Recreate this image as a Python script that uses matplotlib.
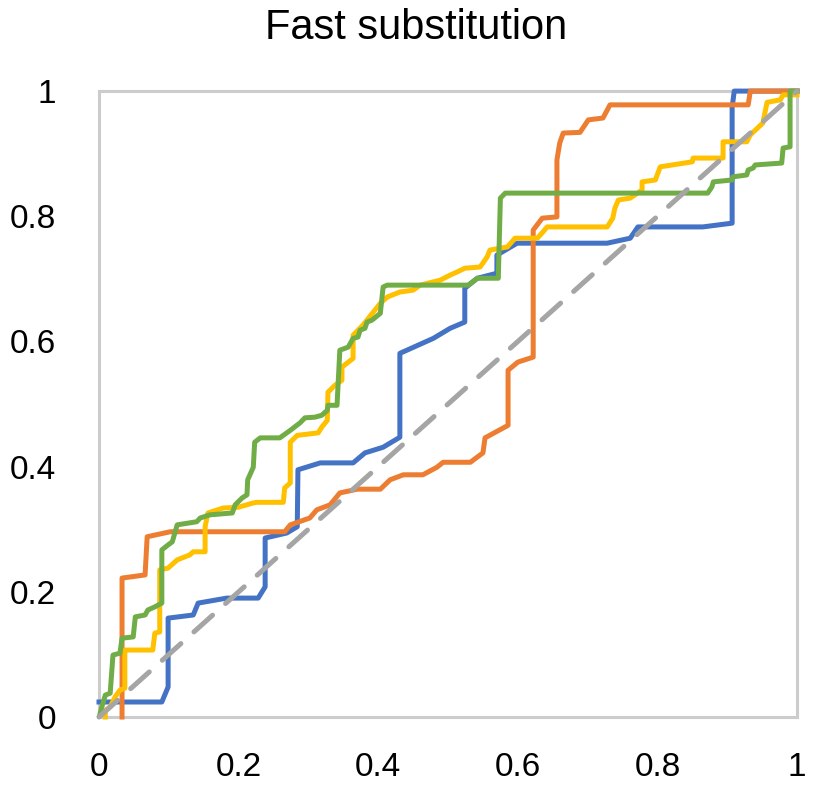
import matplotlib
matplotlib.use('Agg')
import matplotlib.pyplot as plt

plt.rcParams['font.family'] = ['Liberation Sans', 'DejaVu Sans']

title = 'Fast substitution'
ticks = [0, 0.2, 0.4, 0.6, 0.8, 1]
tick_labels = ['0', '0.2', '0.4', '0.6', '0.8', '1']

blue_x = [0, 0.090, 0.099, 0.099, 0.135, 0.142, 0.183, 0.228, 0.238, 0.238, 0.269, 0.284,
          0.285, 0.317, 0.364, 0.381, 0.407, 0.431, 0.431, 0.479, 0.503, 0.524, 0.524, 0.542,
          0.570, 0.570, 0.599, 0.728, 0.761, 0.772, 0.865, 0.907, 0.907, 0.910, 1.0]
blue_y = [0.024, 0.024, 0.048, 0.158, 0.163, 0.182, 0.190, 0.190, 0.208, 0.286, 0.294, 0.304,
          0.395, 0.406, 0.406, 0.422, 0.431, 0.447, 0.581, 0.605, 0.621, 0.631, 0.685, 0.701,
          0.709, 0.738, 0.757, 0.757, 0.765, 0.783, 0.783, 0.789, 0.974, 1.0, 1.0]

orange_x = [0.033, 0.033, 0.066, 0.069, 0.102, 0.266, 0.274, 0.302, 0.312, 0.331, 0.345, 0.370,
            0.403, 0.417, 0.436, 0.464, 0.484, 0.493, 0.532, 0.550, 0.553, 0.586, 0.586, 0.600,
            0.622, 0.622, 0.635, 0.656, 0.656, 0.660, 0.665, 0.689, 0.701, 0.722, 0.732, 0.930,
            0.933, 1.0]
orange_y = [0, 0.222, 0.227, 0.288, 0.296, 0.296, 0.307, 0.318, 0.331, 0.339, 0.358, 0.364,
            0.364, 0.379, 0.387, 0.387, 0.399, 0.407, 0.407, 0.422, 0.446, 0.466, 0.554, 0.567,
            0.575, 0.778, 0.797, 0.799, 0.890, 0.917, 0.933, 0.934, 0.954, 0.957, 0.978, 0.978,
            1.0, 1.0]

yellow_x = [0.009, 0.009, 0.016, 0.023, 0.030, 0.037, 0.037, 0.077, 0.080, 0.087, 0.087, 0.099,
            0.112, 0.130, 0.135, 0.152, 0.152, 0.156, 0.178, 0.199, 0.221, 0.226, 0.264, 0.266,
            0.274, 0.274, 0.284, 0.314, 0.319, 0.327, 0.328, 0.338, 0.348, 0.348, 0.364, 0.364,
            0.378, 0.403, 0.413, 0.431, 0.450, 0.460, 0.489, 0.503, 0.513, 0.524, 0.546, 0.556,
            0.560, 0.585, 0.596, 0.628, 0.636, 0.642, 0.728, 0.736, 0.739, 0.744, 0.761, 0.778,
            0.778, 0.797, 0.804, 0.850, 0.851, 0.894, 0.894, 0.928, 0.933, 0.951, 0.957, 0.976,
            0.980, 1.0]
yellow_y = [0, 0.011, 0.016, 0.032, 0.043, 0.046, 0.107, 0.107, 0.134, 0.136, 0.235, 0.238,
            0.251, 0.259, 0.264, 0.264, 0.304, 0.326, 0.334, 0.335, 0.342, 0.343, 0.343, 0.366,
            0.374, 0.439, 0.450, 0.454, 0.463, 0.474, 0.519, 0.530, 0.538, 0.559, 0.573, 0.610,
            0.626, 0.661, 0.671, 0.679, 0.682, 0.690, 0.698, 0.706, 0.711, 0.717, 0.719, 0.735,
            0.746, 0.751, 0.765, 0.765, 0.775, 0.783, 0.783, 0.797, 0.813, 0.826, 0.829, 0.842,
            0.855, 0.858, 0.879, 0.887, 0.893, 0.893, 0.919, 0.919, 0.930, 0.949, 0.982, 0.986,
            0.994, 0.994]

green_x = [0.001, 0.004, 0.009, 0.016, 0.020, 0.030, 0.033, 0.049, 0.052, 0.066, 0.070, 0.080,
           0.090, 0.090, 0.099, 0.105, 0.112, 0.140, 0.145, 0.159, 0.191, 0.195, 0.205, 0.212,
           0.213, 0.221, 0.223, 0.231, 0.259, 0.274, 0.288, 0.295, 0.309, 0.319, 0.327, 0.328,
           0.341, 0.345, 0.357, 0.364, 0.371, 0.374, 0.381, 0.384, 0.391, 0.403, 0.407, 0.413,
           0.529, 0.542, 0.572, 0.575, 0.582, 0.872, 0.878, 0.880, 0.907, 0.908, 0.928, 0.930,
           0.937, 0.940, 0.978, 0.980, 0.990, 0.990, 1.0]
green_y = [0.003, 0.016, 0.035, 0.038, 0.099, 0.102, 0.126, 0.128, 0.160, 0.163, 0.171, 0.176,
           0.182, 0.267, 0.275, 0.280, 0.307, 0.312, 0.318, 0.323, 0.326, 0.339, 0.350, 0.355,
           0.379, 0.399, 0.439, 0.446, 0.446, 0.458, 0.470, 0.478, 0.479, 0.482, 0.490, 0.498,
           0.498, 0.586, 0.591, 0.605, 0.607, 0.618, 0.621, 0.631, 0.634, 0.645, 0.687, 0.690,
           0.690, 0.701, 0.701, 0.829, 0.837, 0.837, 0.847, 0.855, 0.858, 0.863, 0.866, 0.874,
           0.877, 0.882, 0.885, 0.909, 0.911, 1.0, 1.0]

diag_x = [0, 1]
diag_y = [0, 1]

fig = plt.figure(figsize=(8.32, 7.99), dpi=100)
ax = fig.add_axes([0.119, 0.1026, 0.839, 0.7834])

lw = 3.6
ax.plot(blue_x, blue_y, color='#4472C4', lw=lw, clip_on=False, zorder=3)
ax.plot(orange_x, orange_y, color='#ED7D31', lw=lw, clip_on=False, zorder=3)
ax.plot(yellow_x, yellow_y, color='#FFC000', lw=lw, clip_on=False, zorder=3)
ax.plot(green_x, green_y, color='#70AD47', lw=lw, clip_on=False, zorder=3)
ax.plot(diag_x, diag_y, color='#A5A5A5', lw=lw, ls=(0, (5, 3.5)),
        dash_capstyle='round', clip_on=False, zorder=4)

ax.set_xlim(0, 1)
ax.set_ylim(0, 1)
ax.set_xticks(ticks)
ax.set_xticklabels(tick_labels)
ax.set_yticks(ticks)
ax.set_yticklabels(tick_labels)
ax.tick_params(length=0, labelsize=24)
ax.tick_params(axis='x', pad=25)
ax.tick_params(axis='y', pad=31)
for s in ax.spines.values():
    s.set_color('#CCCCCC')
    s.set_linewidth(2.2)
    s.set_zorder(1)

fig.text(0.5, 0.965, title, ha='center', va='center', fontsize=30)

fig.savefig('out.png', dpi=100)
